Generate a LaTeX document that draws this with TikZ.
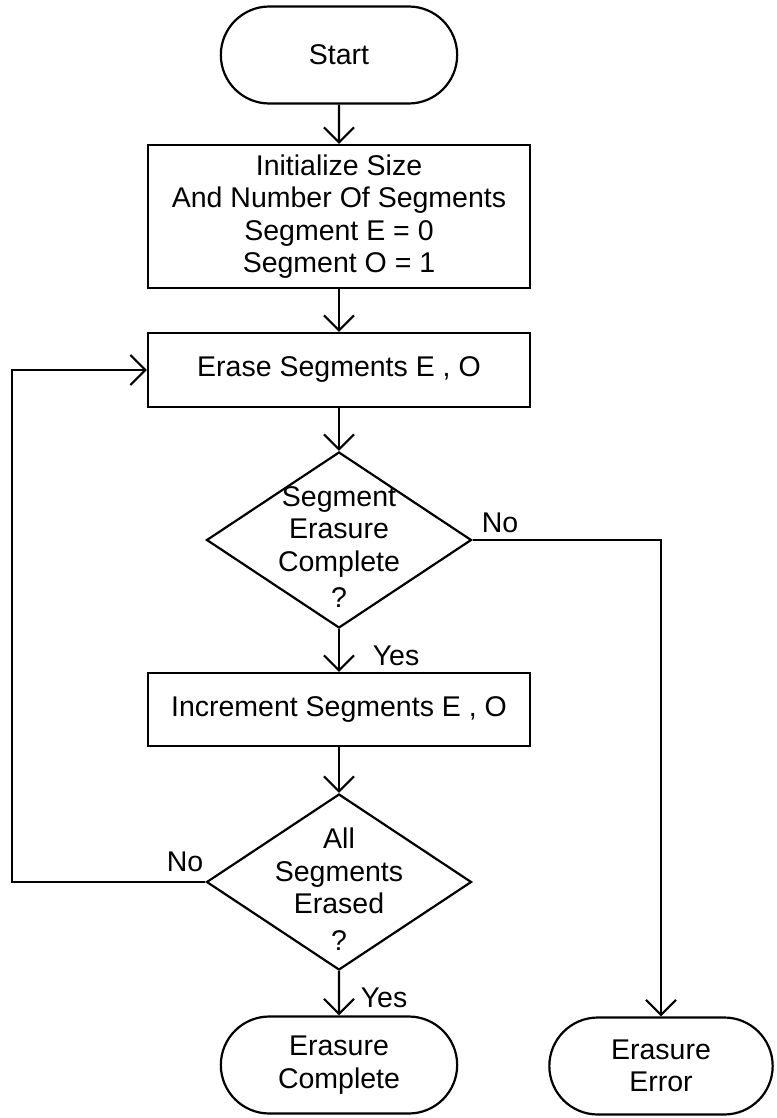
\documentclass[tikz,border=0pt]{standalone}
\usepackage{fontspec}
\setmainfont{Liberation Sans}
\usetikzlibrary{shapes.geometric,shapes.misc,arrows.meta}

\begin{document}
\begin{tikzpicture}[x=1pt,y=-1pt,line width=2.2pt,
  every node/.style={font=\fontsize{28.5}{32.5}\selectfont},
  terminal/.style={draw,rounded rectangle,minimum width=243pt,minimum height=97pt,align=center},
  process/.style={draw,rectangle,minimum width=382pt,inner sep=0pt,align=center},
  decision/.style={draw,diamond,minimum width=265pt,minimum height=176pt,inner sep=0pt},
  dtext/.style={inner sep=0pt,align=center},
  arr/.style={-{Straight Barb[length=15pt,width=30pt]}}]

\useasboundingbox (0,0) rectangle (776,1118);

\node (start) [terminal] at (339,55) {Start};
\node (init) [process,minimum height=143pt] at (339,216.5) {Initialize Size\\ And Number Of Segments\\ Segment E = 0\\ Segment O = 1};
\node (erase) [process,minimum height=74pt] at (339,370) {Erase Segments E , O};
\node (check) [decision] at (339,540) {};
\node (checktext) [dtext] at (339,547) {Segment\\ Erasure\\ Complete\\[4pt] ?};
\node (incr) [process,minimum height=73pt] at (339,709.5) {Increment Segments E , O};
\node (alldone) [decision] at (339,882) {};
\node (alldonetext) [dtext] at (339,889) {All\\ Segments\\ Erased\\[4pt] ?};
\node (complete) [terminal] at (339,1065) {Erasure\\ Complete};
\node (error) [terminal,minimum width=230pt] at (661,1066) {Erasure\\ Error};

\coordinate (back) at (12,882);

\draw[arr] (start) -- (init);
\draw[arr] (init) -- (erase);
\draw[arr] (erase) -- (check);
\draw[arr] (check.south) -- (incr);
\draw[arr] (incr) -- (alldone.north);
\draw[arr] (alldone.south) -- (complete);
\draw[arr] (check.east) -| (error.north);
\draw[arr] (alldone.west) -- (back) |- (erase.west);

\node (no1) at (500,523) {No};
\node (yes1) at (396,656) {Yes};
\node (no2) at (185,862) {No};
\node (yes2) at (384,998) {Yes};
\end{tikzpicture}
\end{document}
